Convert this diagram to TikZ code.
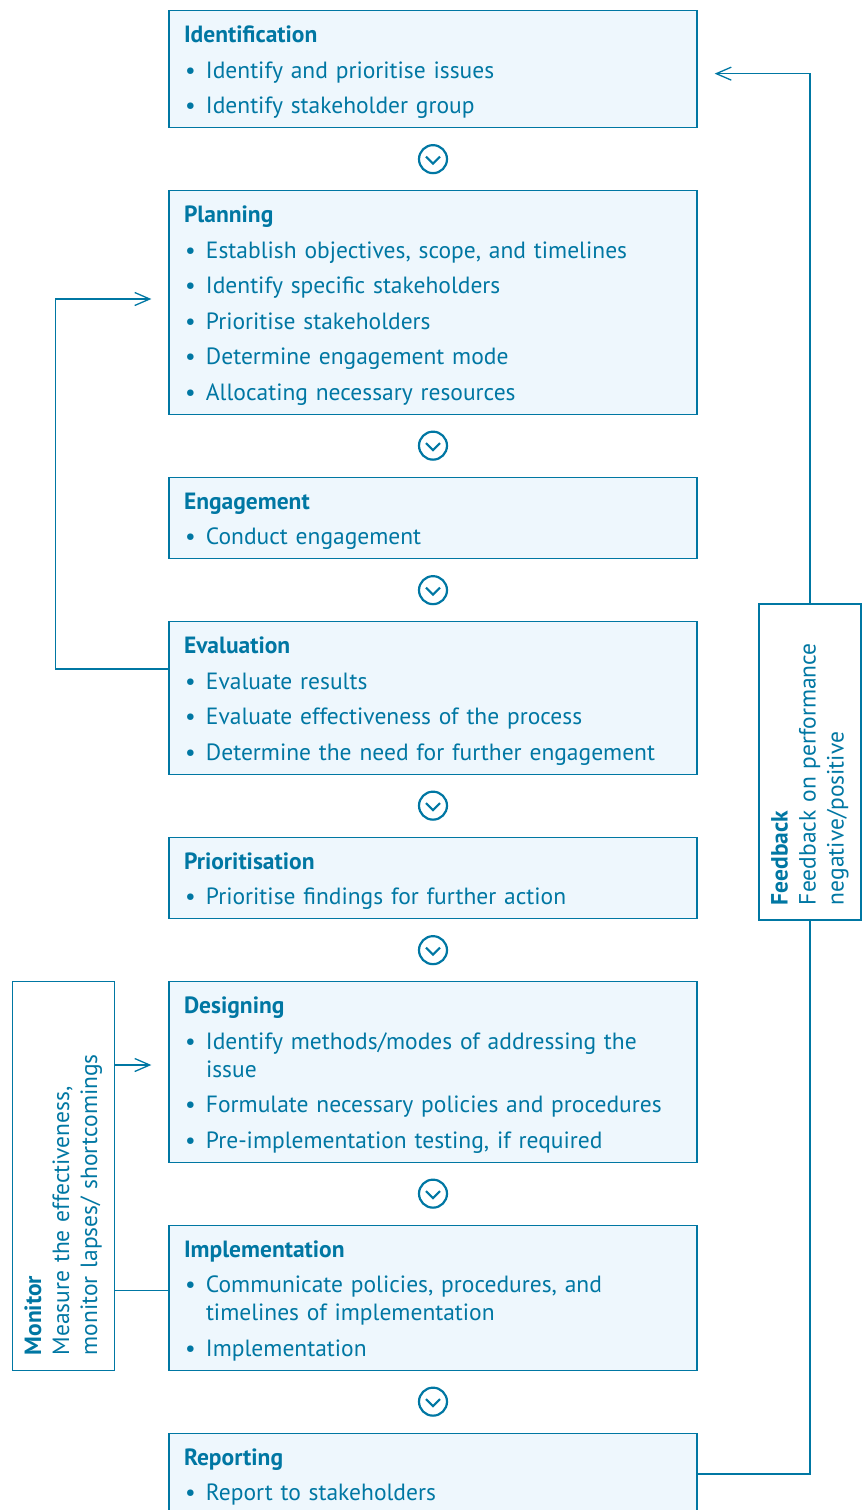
\documentclass[tikz,border=0pt]{standalone}
\usepackage{fontspec}
\setmainfont{PT Sans}
\usetikzlibrary{positioning,calc,arrows.meta}
\definecolor{deepblue}{RGB}{0,119,163}
\definecolor{paleblue}{RGB}{238,247,253}

% one bullet line of a stage box
\newcommand{\stageitem}[1]{\par\vspace{7.5pt}\hangindent=22pt\hangafter=1%
  \noindent\makebox[22pt][l]{\hspace{1pt}\textbullet}#1}

\begin{document}
\begin{tikzpicture}[
  x=1pt, y=-1pt,
  stage/.style={draw=deepblue, line width=1.3pt, fill=paleblue, text=deepblue,
    text width=498pt, inner xsep=15pt, inner ysep=0pt, align=left,
    font=\fontsize{23.5}{28}\selectfont,
    execute at begin node={\rule{0pt}{32pt}},
    execute at end node={\rule[-14pt]{0pt}{0pt}}},
  sidebox/.style={draw=deepblue, line width=1.3pt, fill=white, text=deepblue,
    rotate=90, align=left, inner xsep=15pt, minimum height=102pt,
    font=\fontsize{23.5}{28}\selectfont},
  chev/.style={circle, draw=deepblue, line width=2.2pt, minimum size=28pt,
    inner sep=0pt},
  link/.style={draw=deepblue, line width=1.3pt},
  arrow/.style={link, -{Straight Barb[length=15pt,width=13pt]}},
  ]
  \useasboundingbox (0,0) rectangle (862,1510);

  % Stages
  \node[stage, anchor=north] (ident) at (433,10) {\textbf{Identification}
    \stageitem{Identify and prioritise issues}
    \stageitem{Identify stakeholder group}};
  \node[stage, below=61.7pt of ident] (plan) {\textbf{Planning}
    \stageitem{Establish objectives, scope, and timelines}
    \stageitem{Identify specific stakeholders}
    \stageitem{Prioritise stakeholders}
    \stageitem{Determine engagement mode}
    \stageitem{Allocating necessary resources}};
  \node[stage, below=61.7pt of plan] (engage) {\textbf{Engagement}
    \stageitem{Conduct engagement}};
  \node[stage, below=61.7pt of engage] (eval) {\textbf{Evaluation}
    \stageitem{Evaluate results}
    \stageitem{Evaluate effectiveness of the process}
    \stageitem{Determine the need for further engagement}};
  \node[stage, below=61.7pt of eval] (prior) {\textbf{Prioritisation}
    \stageitem{Prioritise findings for further action}};
  \node[stage, below=61.7pt of prior] (design) {\textbf{Designing}
    \stageitem{Identify methods/modes of addressing the\newline issue}
    \stageitem{Formulate necessary policies and procedures}
    \stageitem{Pre-implementation testing, if required}};
  \node[stage, below=61.7pt of design] (impl) {\textbf{Implementation}
    \stageitem{Communicate policies, procedures, and\newline timelines of implementation}
    \stageitem{Implementation}};
  \node[stage, below=61.7pt of impl] (report) {\textbf{Reporting}
    \stageitem{Report to stakeholders}};

  % Chevrons between the stages
  \foreach \up/\dn [count=\i] in {ident/plan, plan/engage, engage/eval,
      eval/prior, prior/design, design/impl, impl/report} {
    \node[chev] (chev\i) at ($(\up.south)!0.5!(\dn.north)$) {};
    \draw[link, line width=2.2pt] ([shift={(-7,-2.5)}]chev\i.center)
      -- ([shift={(0,4.5)}]chev\i.center) -- ([shift={(7,-2.5)}]chev\i.center);
  }

  % Side boxes
  \node[sidebox, minimum width=316pt, text width=286pt] (fback) at (810,762)
    {\textbf{Feedback}\\Feedback on performance\\negative/positive};
  \node[sidebox, minimum width=389pt, text width=359pt] (mon)
    at ($(design.north west)!0.5!(impl.south west)+(-105,0)$)
    {\textbf{Monitor}\\Measure the effectiveness,\\monitor lapses/ shortcomings};

  % Loops
  \coordinate (fbtip) at ($(ident.east)+(17,4.5)$);
  \draw[arrow] (fback.east) |- (fbtip);
  \draw[link] (fback.west) |- (report.east);

  \coordinate (evalout) at ($(eval.north west)+(0,48)$);
  \coordinate (plantip) at ($(plan.north west)+(-17,109)$);
  \draw[arrow] (evalout) -- ++(-113,0) |- (plantip);

  \coordinate (montip) at ($(design.north west)+(-17,84)$);
  \draw[arrow] (mon.south |- montip) -- (montip);
  \coordinate (implout) at ($(impl.north west)+(0,66)$);
  \draw[link] (implout) -- (mon.south |- implout);
\end{tikzpicture}
\end{document}
